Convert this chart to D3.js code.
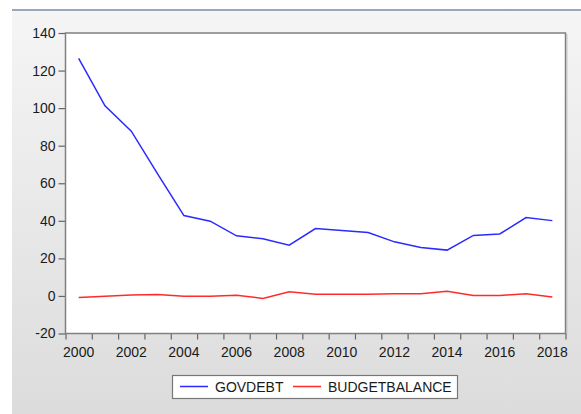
<!DOCTYPE html>
<meta charset="utf-8">
<head>
	<title>GOVDEBT / BUDGETBALANCE</title>
</head>

<style>

body{
	margin: 0;
	background: #fff;
}

svg text{
	font-family: "Liberation Sans", Arial, sans-serif;
	fill: #1a1a1a;
}

</style>

<body>

<svg class="chart" width="581" height="414"></svg>

<script src="https://cdnjs.cloudflare.com/ajax/libs/d3/7.8.5/d3.min.js"></script>
<script>

// data
var years = [2000, 2001, 2002, 2003, 2004, 2005, 2006, 2007, 2008, 2009,
	2010, 2011, 2012, 2013, 2014, 2015, 2016, 2017, 2018];

var govdebt = [126.5, 101.2, 87.7, 65.0, 42.8, 39.8, 32.0, 30.4, 27.0, 35.9,
	34.8, 33.8, 28.8, 25.8, 24.4, 32.2, 33.0, 41.7, 40.1];

var budgetbalance = [-0.8, -0.2, 0.5, 0.8, -0.1, -0.1, 0.3, -1.3, 2.2, 0.9,
	0.9, 0.9, 1.2, 1.2, 2.5, 0.2, 0.2, 1.2, -0.6];

var yTicks = [-20, 0, 20, 40, 60, 80, 100, 120, 140];
var xLabels = [2000, 2002, 2004, 2006, 2008, 2010, 2012, 2014, 2016, 2018];

var seriesNames = ['GOVDEBT', 'BUDGETBALANCE'];
var seriesColors = ['#2b2bff', '#ff2b2b'];

var svg = d3.select('.chart');

// background of the window
var grad = svg.append('defs').append('linearGradient')
	.attr('id', 'bg')
	.attr('x1', 0).attr('y1', 0)
	.attr('x2', 0).attr('y2', 1);
grad.append('stop').attr('offset', '0%').attr('stop-color', '#f5f5f6');
grad.append('stop').attr('offset', '100%').attr('stop-color', '#dcdcdc');

svg.append('rect')
	.attr('x', 12).attr('y', 10)
	.attr('width', 569).attr('height', 404)
	.attr('fill', 'url(#bg)');

svg.append('line')
	.attr('x1', 12).attr('x2', 581)
	.attr('y1', 10).attr('y2', 10)
	.attr('stroke', '#98a7bb')
	.attr('stroke-width', 2);

// plot area
var pLeft = 65.5, pRight = 565.5, pTop = 33, pBottom = 333.5;

var x = d3.scaleLinear()
	.domain([1999.5, 2018.5])
	.range([pLeft, pRight]);

var y = d3.scaleLinear()
	.domain([-20, 140])
	.range([pBottom, pTop]);

svg.append('rect')
	.attr('x', pLeft).attr('y', pTop)
	.attr('width', pRight - pLeft).attr('height', pBottom - pTop)
	.attr('fill', '#fff');

// shadow on right edge
svg.append('line')
	.attr('x1', pRight + 1.5).attr('x2', pRight + 1.5)
	.attr('y1', pTop + 1).attr('y2', pBottom)
	.attr('stroke', '#c8c8c8')
	.attr('stroke-width', 1);

// y axis
var yAxis = d3.axisLeft(y)
	.tickValues(yTicks)
	.tickSize(7)
	.tickPadding(3)
	.tickFormat(function(d){ return String(d); });

var gy = svg.append('g')
	.attr('transform', 'translate(' + pLeft + ',0)')
	.call(yAxis);

// x axis: ticks at year boundaries, labels at year centers
var tickVals = d3.range(1999.5, 2019, 1);

var xAxis = d3.axisBottom(x)
	.tickValues(tickVals)
	.tickSize(6)
	.tickFormat('');

var gx = svg.append('g')
	.attr('transform', 'translate(0,' + pBottom + ')')
	.call(xAxis);

gx.selectAll('text.lab')
	.data(xLabels)
	.enter()
	.append('text')
	.attr('class', 'lab')
	.attr('x', function(d){ return x(d); })
	.attr('y', 23)
	.attr('text-anchor', 'middle')
	.style('font-size', '14px')
	.text(function(d){ return d; });

[gx, gy].forEach(function(g){
	g.select('.domain').remove();
	g.selectAll('.tick line').attr('stroke', '#666').attr('stroke-width', 1.2);
});

gy.selectAll('.tick text')
	.style('font-size', '14px')
	.style('font-family', '"Liberation Sans", Arial, sans-serif')
	.attr('fill', '#1a1a1a');

// frame
svg.append('rect')
	.attr('x', pLeft).attr('y', pTop)
	.attr('width', pRight - pLeft).attr('height', pBottom - pTop)
	.attr('fill', 'none')
	.attr('stroke', '#808080')
	.attr('stroke-width', 1.5);

// lines
var lineGenerator = d3.line()
	.x(function(d, i){ return x(years[i]); })
	.y(function(d){ return y(d); });

svg.append('path')
	.attr('d', lineGenerator(govdebt))
	.attr('fill', 'none')
	.attr('stroke', seriesColors[0])
	.attr('stroke-width', 1.5);

svg.append('path')
	.attr('d', lineGenerator(budgetbalance))
	.attr('fill', 'none')
	.attr('stroke', seriesColors[1])
	.attr('stroke-width', 1.5);

// legend
var legend = svg.append('g');

legend.append('rect')
	.attr('x', 172.5).attr('y', 375.5)
	.attr('width', 285).attr('height', 23)
	.attr('fill', '#fff')
	.attr('stroke', '#777')
	.attr('stroke-width', 1.2);

var legendX = [180, 293];

legend.selectAll('line.key')
	.data(seriesNames)
	.enter()
	.append('line')
	.attr('class', 'key')
	.attr('x1', function(d, i){ return legendX[i]; })
	.attr('x2', function(d, i){ return legendX[i] + 28; })
	.attr('y1', 386.5).attr('y2', 386.5)
	.attr('stroke', function(d, i){ return seriesColors[i]; })
	.attr('stroke-width', 1.5);

legend.selectAll('text.key')
	.data(seriesNames)
	.enter()
	.append('text')
	.attr('class', 'key')
	.attr('x', function(d, i){ return legendX[i] + 35; })
	.attr('y', 391.5)
	.style('font-size', '14px')
	.text(function(d){ return d; });

</script>

</body>
</html>
